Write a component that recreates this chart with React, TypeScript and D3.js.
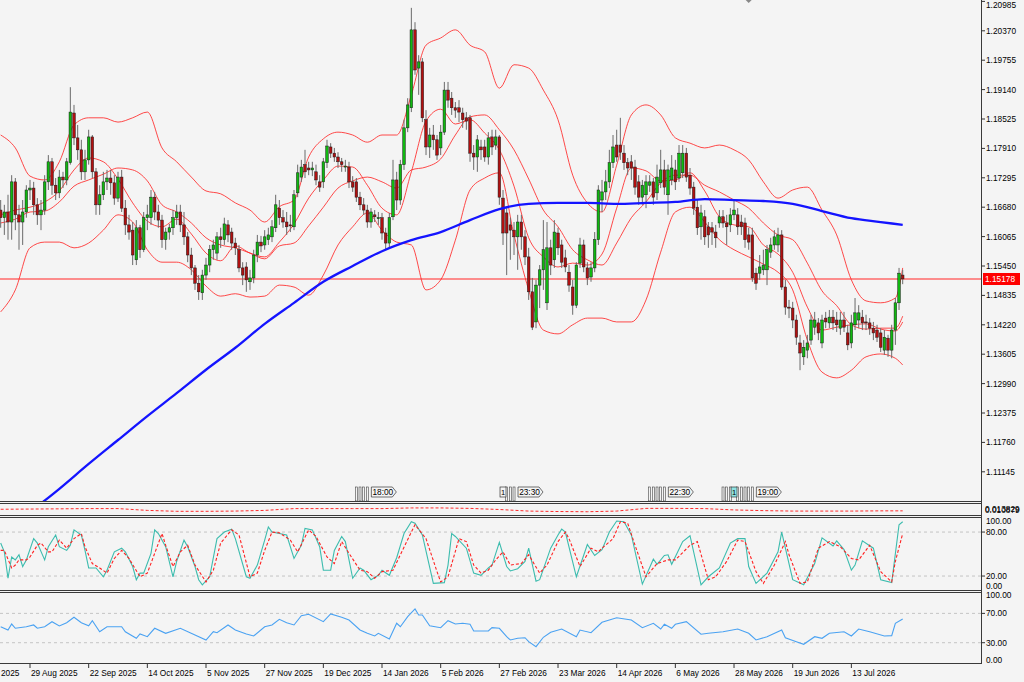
import React from 'react';
import * as d3 from 'd3';

// daily candles, oldest first (bar index = position in array)
const candleOpen = [
  1.1662, 1.1646, 1.1658, 1.1637, 1.1721, 1.1652, 1.1637, 1.1658, 1.1704, 1.1708,
  1.1673, 1.1652, 1.1662, 1.1721, 1.1763, 1.1714, 1.1698, 1.1731, 1.1725, 1.1761,
  1.1865, 1.1813, 1.1788, 1.1742, 1.1767, 1.1815, 1.1742, 1.1673, 1.1694, 1.1721,
  1.1729, 1.1719, 1.1687, 1.1731, 1.1666, 1.1631, 1.1620, 1.1558, 1.1625, 1.1579,
  1.1646, 1.1646, 1.1689, 1.1658, 1.1641, 1.1600, 1.1616, 1.1625, 1.1646, 1.1658,
  1.1631, 1.1606, 1.1568, 1.1541, 1.1509, 1.1489, 1.1526, 1.1547, 1.1579, 1.1572,
  1.1606, 1.1600, 1.1631, 1.1616, 1.1593, 1.1579, 1.1541, 1.1543, 1.1512, 1.1520,
  1.1568, 1.1595, 1.1589, 1.1600, 1.1606, 1.1625, 1.1666, 1.1646, 1.1637, 1.1631,
  1.1627, 1.1698, 1.1731, 1.1757, 1.1750, 1.1746, 1.1742, 1.1721, 1.1721, 1.1761,
  1.1794, 1.1781, 1.1773, 1.1763, 1.1752, 1.1752, 1.1721, 1.1721, 1.1689, 1.1673,
  1.1662, 1.1637, 1.1652, 1.1646, 1.1646, 1.1614, 1.1593, 1.1648, 1.1725, 1.1683,
  1.1757, 1.1834, 1.1876, 1.2039, 1.1959, 1.1972, 1.1851, 1.1794, 1.1819, 1.1809,
  1.1792, 1.1825, 1.1913, 1.1896, 1.1876, 1.1876, 1.1865, 1.1855, 1.1855, 1.1781,
  1.1773, 1.1794, 1.1794, 1.1773, 1.1815, 1.1798, 1.1815, 1.1687, 1.1656, 1.1631,
  1.1620, 1.1606, 1.1637, 1.1606, 1.1564, 1.1491, 1.1428, 1.1505, 1.1537, 1.1468,
  1.1583, 1.1558, 1.1614, 1.1589, 1.1562, 1.1532, 1.1501, 1.1463, 1.1551, 1.1589,
  1.1541, 1.1522, 1.1541, 1.1600, 1.1683, 1.1700, 1.1721, 1.1761, 1.1798, 1.1798,
  1.1781, 1.1761, 1.1763, 1.1752, 1.1721, 1.1689, 1.1694, 1.1714, 1.1721, 1.1698,
  1.1719, 1.1746, 1.1694, 1.1725, 1.1746, 1.1729, 1.1740, 1.1781, 1.1735, 1.1710,
  1.1668, 1.1627, 1.1648, 1.1627, 1.1625, 1.1616, 1.1635, 1.1648, 1.1635, 1.1631,
  1.1652, 1.1652, 1.1637, 1.1635, 1.1610, 1.1610, 1.1530, 1.1530, 1.1537, 1.1537,
  1.1574, 1.1589, 1.1589, 1.1610, 1.1501, 1.1459, 1.1457, 1.1432, 1.1384, 1.1355,
  1.1369, 1.1390, 1.1417, 1.1426, 1.1384, 1.1436, 1.1426, 1.1438, 1.1432, 1.1415,
  1.1432, 1.1405, 1.1384, 1.1422, 1.1432, 1.1438, 1.1428, 1.1426, 1.1415, 1.1411,
  1.1405, 1.1369, 1.1394, 1.1369, 1.1411, 1.1468, 1.1526,
];
const candleHigh = [
  1.1683, 1.1673, 1.1694, 1.1735, 1.1729, 1.1673, 1.1683, 1.1714, 1.1725, 1.1721,
  1.1687, 1.1683, 1.1735, 1.1777, 1.1771, 1.1729, 1.1746, 1.1742, 1.1771, 1.1919,
  1.1882, 1.1840, 1.1809, 1.1788, 1.1830, 1.1819, 1.1750, 1.1714, 1.1742, 1.1746,
  1.1746, 1.1735, 1.1742, 1.1746, 1.1683, 1.1652, 1.1637, 1.1641, 1.1631, 1.1658,
  1.1673, 1.1704, 1.1700, 1.1673, 1.1652, 1.1625, 1.1633, 1.1662, 1.1673, 1.1673,
  1.1658, 1.1616, 1.1583, 1.1547, 1.1526, 1.1537, 1.1562, 1.1589, 1.1600, 1.1616,
  1.1625, 1.1646, 1.1641, 1.1625, 1.1604, 1.1589, 1.1553, 1.1553, 1.1537, 1.1579,
  1.1610, 1.1608, 1.1620, 1.1625, 1.1641, 1.1694, 1.1683, 1.1662, 1.1658, 1.1652,
  1.1704, 1.1757, 1.1767, 1.1788, 1.1763, 1.1763, 1.1757, 1.1735, 1.1771, 1.1809,
  1.1802, 1.1792, 1.1783, 1.1771, 1.1767, 1.1763, 1.1733, 1.1729, 1.1700, 1.1687,
  1.1673, 1.1666, 1.1662, 1.1658, 1.1656, 1.1625, 1.1656, 1.1767, 1.1742, 1.1767,
  1.1851, 1.1896, 1.2085, 1.2055, 1.1986, 1.1980, 1.1871, 1.1834, 1.1840, 1.1819,
  1.1840, 1.1930, 1.1930, 1.1909, 1.1888, 1.1892, 1.1876, 1.1867, 1.1861, 1.1798,
  1.1819, 1.1809, 1.1809, 1.1825, 1.1830, 1.1830, 1.1819, 1.1704, 1.1666, 1.1646,
  1.1637, 1.1652, 1.1652, 1.1620, 1.1583, 1.1520, 1.1516, 1.1547, 1.1641, 1.1637,
  1.1600, 1.1641, 1.1625, 1.1600, 1.1579, 1.1547, 1.1516, 1.1553, 1.1604, 1.1600,
  1.1553, 1.1553, 1.1616, 1.1714, 1.1725, 1.1746, 1.1788, 1.1819, 1.1830, 1.1855,
  1.1798, 1.1771, 1.1777, 1.1767, 1.1735, 1.1725, 1.1735, 1.1735, 1.1729, 1.1757,
  1.1788, 1.1767, 1.1757, 1.1777, 1.1767, 1.1798, 1.1798, 1.1792, 1.1750, 1.1721,
  1.1683, 1.1673, 1.1662, 1.1637, 1.1637, 1.1631, 1.1662, 1.1662, 1.1652, 1.1666,
  1.1683, 1.1666, 1.1652, 1.1646, 1.1625, 1.1625, 1.1541, 1.1568, 1.1579, 1.1589,
  1.1604, 1.1620, 1.1625, 1.1620, 1.1516, 1.1474, 1.1470, 1.1443, 1.1401, 1.1390,
  1.1401, 1.1443, 1.1449, 1.1436, 1.1443, 1.1449, 1.1453, 1.1453, 1.1449, 1.1449,
  1.1449, 1.1422, 1.1443, 1.1478, 1.1463, 1.1453, 1.1443, 1.1436, 1.1428, 1.1422,
  1.1415, 1.1411, 1.1401, 1.1422, 1.1478, 1.1541, 1.1537,
];
const candleLow = [
  1.1625, 1.1610, 1.1600, 1.1600, 1.1620, 1.1579, 1.1589, 1.1646, 1.1683, 1.1652,
  1.1631, 1.1620, 1.1652, 1.1704, 1.1694, 1.1683, 1.1687, 1.1708, 1.1714, 1.1757,
  1.1798, 1.1767, 1.1725, 1.1725, 1.1757, 1.1729, 1.1652, 1.1652, 1.1683, 1.1704,
  1.1694, 1.1673, 1.1679, 1.1658, 1.1610, 1.1600, 1.1547, 1.1547, 1.1562, 1.1574,
  1.1620, 1.1631, 1.1641, 1.1625, 1.1583, 1.1579, 1.1600, 1.1610, 1.1631, 1.1616,
  1.1589, 1.1553, 1.1526, 1.1495, 1.1474, 1.1474, 1.1516, 1.1532, 1.1558, 1.1558,
  1.1583, 1.1589, 1.1595, 1.1579, 1.1568, 1.1532, 1.1505, 1.1491, 1.1495, 1.1509,
  1.1553, 1.1574, 1.1579, 1.1589, 1.1595, 1.1616, 1.1631, 1.1625, 1.1610, 1.1616,
  1.1620, 1.1689, 1.1721, 1.1729, 1.1735, 1.1733, 1.1714, 1.1700, 1.1708, 1.1750,
  1.1771, 1.1763, 1.1750, 1.1742, 1.1742, 1.1708, 1.1700, 1.1679, 1.1662, 1.1652,
  1.1625, 1.1625, 1.1637, 1.1631, 1.1600, 1.1579, 1.1583, 1.1641, 1.1662, 1.1673,
  1.1746, 1.1825, 1.1867, 1.1945, 1.1903, 1.1846, 1.1777, 1.1771, 1.1788, 1.1767,
  1.1777, 1.1819, 1.1876, 1.1861, 1.1855, 1.1846, 1.1834, 1.1830, 1.1763, 1.1746,
  1.1742, 1.1767, 1.1763, 1.1757, 1.1777, 1.1788, 1.1673, 1.1589, 1.1526, 1.1558,
  1.1568, 1.1537, 1.1579, 1.1547, 1.1474, 1.1411, 1.1415, 1.1457, 1.1495, 1.1453,
  1.1526, 1.1541, 1.1568, 1.1541, 1.1532, 1.1491, 1.1443, 1.1457, 1.1541, 1.1532,
  1.1505, 1.1512, 1.1532, 1.1589, 1.1658, 1.1683, 1.1708, 1.1750, 1.1763, 1.1767,
  1.1746, 1.1735, 1.1725, 1.1694, 1.1673, 1.1673, 1.1666, 1.1700, 1.1673, 1.1683,
  1.1708, 1.1694, 1.1652, 1.1714, 1.1704, 1.1721, 1.1729, 1.1721, 1.1694, 1.1652,
  1.1610, 1.1600, 1.1589, 1.1583, 1.1589, 1.1583, 1.1625, 1.1625, 1.1589, 1.1616,
  1.1641, 1.1610, 1.1610, 1.1583, 1.1579, 1.1512, 1.1495, 1.1516, 1.1526, 1.1505,
  1.1562, 1.1579, 1.1574, 1.1495, 1.1443, 1.1436, 1.1415, 1.1380, 1.1327, 1.1338,
  1.1352, 1.1380, 1.1401, 1.1390, 1.1373, 1.1415, 1.1415, 1.1411, 1.1407, 1.1401,
  1.1407, 1.1369, 1.1373, 1.1411, 1.1415, 1.1411, 1.1411, 1.1401, 1.1390, 1.1386,
  1.1365, 1.1359, 1.1355, 1.1352, 1.1380, 1.1453, 1.1507,
];
const candleClose = [
  1.1646, 1.1658, 1.1637, 1.1721, 1.1652, 1.1637, 1.1658, 1.1704, 1.1708, 1.1673,
  1.1652, 1.1662, 1.1721, 1.1763, 1.1714, 1.1698, 1.1731, 1.1725, 1.1763, 1.1867,
  1.1813, 1.1788, 1.1742, 1.1767, 1.1815, 1.1742, 1.1673, 1.1694, 1.1721, 1.1729,
  1.1719, 1.1687, 1.1731, 1.1666, 1.1631, 1.1616, 1.1568, 1.1625, 1.1579, 1.1646,
  1.1652, 1.1689, 1.1658, 1.1641, 1.1600, 1.1616, 1.1625, 1.1646, 1.1658, 1.1631,
  1.1606, 1.1568, 1.1541, 1.1509, 1.1491, 1.1526, 1.1547, 1.1579, 1.1589, 1.1606,
  1.1600, 1.1633, 1.1610, 1.1593, 1.1583, 1.1541, 1.1526, 1.1516, 1.1520, 1.1568,
  1.1595, 1.1587, 1.1606, 1.1610, 1.1627, 1.1673, 1.1646, 1.1637, 1.1627, 1.1629,
  1.1694, 1.1740, 1.1752, 1.1742, 1.1746, 1.1750, 1.1725, 1.1710, 1.1763, 1.1796,
  1.1781, 1.1773, 1.1763, 1.1757, 1.1754, 1.1721, 1.1710, 1.1689, 1.1673, 1.1662,
  1.1637, 1.1658, 1.1648, 1.1646, 1.1614, 1.1593, 1.1646, 1.1725, 1.1683, 1.1757,
  1.1834, 1.1882, 1.2039, 1.1955, 1.1972, 1.1855, 1.1794, 1.1819, 1.1809, 1.1777,
  1.1825, 1.1913, 1.1892, 1.1876, 1.1871, 1.1867, 1.1851, 1.1848, 1.1781, 1.1773,
  1.1809, 1.1788, 1.1773, 1.1813, 1.1794, 1.1815, 1.1689, 1.1614, 1.1614, 1.1620,
  1.1606, 1.1637, 1.1606, 1.1564, 1.1491, 1.1417, 1.1505, 1.1537, 1.1579, 1.1583,
  1.1547, 1.1616, 1.1583, 1.1553, 1.1543, 1.1505, 1.1463, 1.1547, 1.1589, 1.1543,
  1.1520, 1.1541, 1.1600, 1.1704, 1.1700, 1.1721, 1.1761, 1.1794, 1.1773, 1.1783,
  1.1761, 1.1750, 1.1750, 1.1710, 1.1689, 1.1714, 1.1721, 1.1721, 1.1689, 1.1731,
  1.1746, 1.1710, 1.1746, 1.1750, 1.1721, 1.1781, 1.1781, 1.1731, 1.1708, 1.1666,
  1.1625, 1.1656, 1.1606, 1.1610, 1.1616, 1.1604, 1.1648, 1.1635, 1.1627, 1.1652,
  1.1662, 1.1627, 1.1627, 1.1600, 1.1595, 1.1520, 1.1509, 1.1543, 1.1547, 1.1579,
  1.1589, 1.1606, 1.1610, 1.1501, 1.1459, 1.1457, 1.1432, 1.1396, 1.1363, 1.1375,
  1.1384, 1.1432, 1.1432, 1.1405, 1.1432, 1.1428, 1.1438, 1.1426, 1.1422, 1.1432,
  1.1417, 1.1380, 1.1426, 1.1447, 1.1447, 1.1426, 1.1426, 1.1415, 1.1405, 1.1396,
  1.1375, 1.1396, 1.1369, 1.1411, 1.1468, 1.1530, 1.1518,
];
const lastPrice = 1.15178;

// price axis
const priceTicks = [
  1.20985, 1.2037, 1.19755, 1.1914, 1.18525, 1.1791, 1.17295, 1.1668, 1.16065,
  1.1545, 1.14835, 1.1422, 1.13605, 1.1299, 1.12375, 1.1176, 1.11145,
];

// time axis: a label every 16 bars (the first one is mostly off the left edge)
const dateTickBars = [-8, 8, 24, 40, 56, 72, 88, 104, 120, 136, 152, 168, 184, 200, 216, 232];
const dateTickLabels = [
  '2025', '29 Aug 2025', '22 Sep 2025', '14 Oct 2025', '5 Nov 2025', '27 Nov 2025',
  '19 Dec 2025', '14 Jan 2026', '5 Feb 2026', '27 Feb 2026', '23 Mar 2026', '14 Apr 2026',
  '6 May 2026', '28 May 2026', '19 Jun 2026', '13 Jul 2026',
];

// Bollinger bands and fast MA, read every 4 bars
const bandBars = [
  0, 4, 8, 12, 16, 20, 24, 28, 32, 36, 40, 44, 48, 52, 56, 60, 64, 68, 72, 76, 80, 84,
  88, 92, 96, 100, 104, 108, 112, 116, 120, 124, 128, 132, 136, 140, 144, 148, 152, 156,
  160, 164, 168, 172, 176, 180, 184, 188, 192, 196, 200, 204, 208, 212, 216, 220, 224,
  228, 232, 236, 240, 244, 246,
];
const bbUpper = [
  1.1819, 1.1792, 1.1733, 1.1725, 1.1763, 1.1840, 1.1855, 1.1855, 1.1846, 1.1855, 1.1867,
  1.1792, 1.1763, 1.1731, 1.1702, 1.1696, 1.1677, 1.1662, 1.1637, 1.1669, 1.1683, 1.1773,
  1.1811, 1.1825, 1.1819, 1.1804, 1.1819, 1.1819, 1.1903, 1.2007, 1.2022, 1.2039, 1.2007,
  1.1993, 1.1917, 1.1966, 1.1959, 1.1913, 1.1851, 1.1735, 1.1677, 1.1658, 1.1756, 1.1861,
  1.1882, 1.1861, 1.1813, 1.1802, 1.1792, 1.1798, 1.1788, 1.1767, 1.1721, 1.1687, 1.1704,
  1.1710, 1.1662, 1.1610, 1.1516, 1.1472, 1.1468, 1.1478, 1.1541,
];
const bbMiddle = [
  1.1635, 1.1643, 1.1658, 1.1660, 1.1679, 1.1712, 1.1725, 1.1737, 1.1750, 1.1746, 1.1723,
  1.1673, 1.1658, 1.1635, 1.1604, 1.1589, 1.1583, 1.1572, 1.1560, 1.1587, 1.1593, 1.1629,
  1.1668, 1.1708, 1.1723, 1.1731, 1.1721, 1.1708, 1.1746, 1.1752, 1.1769, 1.1819, 1.1857,
  1.1861, 1.1830, 1.1788, 1.1727, 1.1662, 1.1627, 1.1579, 1.1558, 1.1547, 1.1593, 1.1646,
  1.1679, 1.1719, 1.1735, 1.1735, 1.1714, 1.1700, 1.1683, 1.1666, 1.1635, 1.1610, 1.1600,
  1.1551, 1.1493, 1.1462, 1.1422, 1.1413, 1.1415, 1.1415, 1.1440,
];
const bbLower = [
  1.1449, 1.1495, 1.1583, 1.1595, 1.1595, 1.1583, 1.1593, 1.1620, 1.1652, 1.1637, 1.1579,
  1.1553, 1.1553, 1.1537, 1.1503, 1.1482, 1.1487, 1.1480, 1.1482, 1.1505, 1.1501, 1.1484,
  1.1526, 1.1589, 1.1627, 1.1656, 1.1620, 1.1595, 1.1589, 1.1495, 1.1516, 1.1599, 1.1704,
  1.1729, 1.1740, 1.1610, 1.1495, 1.1411, 1.1403, 1.1422, 1.1436, 1.1436, 1.1428, 1.1428,
  1.1474, 1.1574, 1.1658, 1.1668, 1.1637, 1.1600, 1.1579, 1.1564, 1.1549, 1.1532, 1.1495,
  1.1390, 1.1323, 1.1311, 1.1327, 1.1355, 1.1361, 1.1352, 1.1338,
];
const fastMa = [
  1.1652, 1.1662, 1.1668, 1.1679, 1.1702, 1.1746, 1.1771, 1.1763, 1.1727, 1.1677, 1.1639,
  1.1627, 1.1643, 1.1612, 1.1572, 1.1556, 1.1587, 1.1572, 1.1564, 1.1595, 1.1633, 1.1687,
  1.1725, 1.1754, 1.1752, 1.1714, 1.1666, 1.1652, 1.1742, 1.1848, 1.1873, 1.1842, 1.1851,
  1.1823, 1.1788, 1.1712, 1.1604, 1.1564, 1.1543, 1.1551, 1.1547, 1.1570, 1.1666, 1.1750,
  1.1744, 1.1723, 1.1725, 1.1740, 1.1702, 1.1648, 1.1631, 1.1627, 1.1589, 1.1570, 1.1532,
  1.1459, 1.1411, 1.1417, 1.1422, 1.1424, 1.1413, 1.1409, 1.1428,
];

// slow blue moving average, read every 8 bars
const slowMaBars = [
  0, 8, 16, 24, 32, 40, 48, 56, 64, 72, 80, 88, 96, 104, 112, 120, 128, 136, 144, 152,
  160, 168, 176, 184, 192, 200, 208, 216, 224, 232, 240, 246,
];
const slowMa = [
  1.0980, 1.1030, 1.1079, 1.1131, 1.1181, 1.1231, 1.1279, 1.1328, 1.1374, 1.1424, 1.1468,
  1.1512, 1.1545, 1.1576, 1.1599, 1.1616, 1.1641, 1.1664, 1.1675, 1.1677, 1.1677, 1.1675,
  1.1677, 1.1679, 1.1685, 1.1683, 1.1681, 1.1675, 1.1660, 1.1645, 1.1637, 1.1631,
];

// thin indicator strip under the price panel (same bars as slowMaBars)
const stripValues = [
  0.01243, 0.0125, 0.01257, 0.01265, 0.01265, 0.01206, 0.01176, 0.01176, 0.01184, 0.01206,
  0.01265, 0.01265, 0.01265, 0.01265, 0.01287, 0.01287, 0.01272, 0.01235, 0.01184, 0.01169,
  0.01162, 0.01184, 0.01272, 0.01272, 0.01265, 0.01221, 0.01198, 0.01184, 0.01184, 0.01184,
  0.01191, 0.01191,
];
const stripMax = 0.013829;
const stripMin = 0.010879;

// stochastic: [bar, value]
const stochMain: [number, number][] = [
  [0, 65], [1, 53], [2, 17], [3, 46], [4, 42], [5, 49], [6, 33], [7, 42], [9, 71], [10, 65],
  [12, 42], [13, 60], [15, 76], [16, 60], [18, 55], [19, 62], [20, 83], [22, 76], [23, 55],
  [24, 31], [26, 31], [28, 19], [29, 28], [31, 53], [33, 58], [34, 53], [36, 33], [37, 15],
  [38, 24], [39, 24], [41, 51], [42, 83], [43, 78], [45, 60], [47, 19], [48, 40], [50, 69],
  [51, 60], [53, 33], [54, 15], [55, 8], [57, 19], [59, 71], [61, 80], [63, 84], [64, 71],
  [67, 19], [68, 17], [70, 35], [72, 69], [73, 87], [74, 80], [76, 78], [78, 76], [80, 44],
  [82, 62], [83, 85], [85, 83], [87, 60], [88, 28], [90, 28], [91, 55], [93, 74], [94, 67],
  [96, 17], [98, 31], [99, 28], [101, 15], [103, 21], [104, 28], [106, 21], [108, 45],
  [110, 78], [112, 94], [113, 92], [115, 76], [118, 10], [121, 11], [122, 35], [123, 78],
  [124, 74], [127, 58], [129, 24], [131, 21], [133, 31], [134, 35], [136, 66], [138, 33],
  [139, 27], [141, 30], [143, 40], [144, 58], [146, 13], [147, 15], [150, 58], [152, 76],
  [153, 84], [154, 80], [157, 19], [160, 63], [162, 48], [164, 56], [166, 80], [168, 95],
  [170, 94], [172, 76], [175, 9], [178, 43], [179, 36], [181, 48], [182, 49], [183, 36],
  [186, 67], [188, 75], [191, 8], [193, 19], [196, 31], [199, 65], [201, 71], [203, 71],
  [204, 33], [206, 10], [209, 24], [212, 53], [213, 80], [216, 15], [219, 8], [222, 37],
  [224, 72], [227, 61], [228, 68], [230, 56], [232, 28], [233, 35], [235, 68], [238, 58],
  [240, 15], [243, 11], [245, 90], [246, 94],
];
const stochSignal: [number, number][] = [
  [0, 55], [1, 55], [3, 31], [4, 35], [5, 42], [7, 42], [8, 46], [10, 62], [11, 65], [13, 53],
  [14, 53], [16, 69], [18, 58], [20, 71], [22, 78], [23, 60], [25, 37], [27, 31], [29, 24],
  [31, 44], [33, 55], [35, 44], [38, 19], [40, 24], [42, 51], [44, 78], [45, 62], [47, 33],
  [49, 53], [51, 62], [53, 35], [56, 12], [58, 28], [60, 65], [63, 83], [65, 76], [68, 19],
  [70, 24], [72, 55], [74, 80], [76, 79], [79, 69], [81, 53], [84, 83], [86, 74], [89, 46],
  [91, 37], [93, 67], [95, 51], [98, 28], [100, 26], [102, 17], [104, 26], [107, 28],
  [109, 49], [112, 80], [113, 90], [116, 71], [119, 26], [120, 12], [122, 19], [125, 71],
  [127, 67], [129, 35], [131, 24], [133, 28], [135, 42], [137, 53], [139, 35], [142, 37],
  [144, 49], [147, 24], [149, 35], [152, 67], [154, 80], [155, 71], [158, 33], [161, 58],
  [163, 53], [164, 58], [167, 71], [169, 94], [171, 92], [173, 62], [176, 19], [179, 37],
  [182, 42], [184, 42], [188, 62], [190, 67], [193, 15], [195, 19], [198, 40], [201, 69],
  [203, 67], [206, 26], [208, 10], [211, 35], [214, 67], [215, 49], [218, 10], [220, 12],
  [223, 58], [226, 67], [229, 60], [232, 44], [234, 42], [237, 62], [240, 26], [243, 12],
  [244, 40], [246, 78],
];

// RSI: [bar, value]
const rsiLine: [number, number][] = [
  [0, 51.8], [2, 47.3], [3, 55.5], [4, 49.7], [7, 51.8], [9, 54.2], [10, 49.7], [12, 51.8],
  [14, 58.7], [16, 52.8], [18, 57.3], [20, 64.7], [22, 57.3], [24, 53.2], [25, 60], [27, 45],
  [29, 51.8], [33, 51.8], [34, 45], [37, 36], [38, 41.9], [40, 38.2], [42, 49.7], [45, 42.8],
  [49, 49.7], [53, 40.5], [56, 33.7], [58, 45], [59, 43.7], [62, 54.2], [64, 47.3], [67, 41.9],
  [69, 39.2], [72, 51.8], [74, 54.2], [76, 61.9], [78, 57.3], [80, 54.2], [82, 66.8],
  [84, 68.8], [88, 58.7], [90, 69.2], [93, 64.7], [95, 61], [98, 47.3], [100, 42.8],
  [102, 39.2], [103, 42.8], [106, 35], [108, 56.5], [109, 51.8], [111, 65.5], [113, 76],
  [114, 67.8], [115, 67.8], [117, 53.2], [120, 50.5], [122, 60], [124, 55.5], [126, 56.5],
  [128, 55.1], [129, 46], [133, 46], [134, 50.5], [136, 49.7], [138, 38.2], [139, 33.7],
  [141, 36], [143, 36.8], [144, 31.4], [146, 24.6], [148, 37.4], [150, 44.2], [153, 48.7],
  [157, 38.2], [158, 47.3], [161, 43.7], [164, 57.8], [168, 64.1], [172, 61], [175, 50.5],
  [178, 56.5], [180, 48.7], [181, 55.1], [183, 49.7], [184, 55.1], [187, 58.7], [191, 41.5],
  [193, 42.8], [197, 45], [201, 48.7], [204, 42.8], [206, 33.7], [209, 38.2], [213, 47.3],
  [214, 36.8], [217, 31.4], [219, 27.8], [222, 38.2], [224, 36], [226, 42.8], [230, 45],
  [232, 39.2], [234, 48.7], [237, 45], [241, 39.2], [243, 39.6], [244, 56.5], [246, 62.3],
];

// calendar event flags at the bottom of the price panel
const eventGroups = [
  { bars: [97, 98, 99, 100], badgeBar: -1, highlight: false, label: '18:00' },
  { bars: [138, 139, 140], badgeBar: 137, highlight: false, label: '23:30' },
  { bars: [177, 178, 179, 180, 181], badgeBar: -1, highlight: false, label: '22:30' },
  { bars: [197, 198, 199, 201, 202, 203, 204, 205], badgeBar: 200, highlight: true, label: '19:00' },
];
const topMarkerBar = 204;

const BG = '#f4f4f4';
const FONT = "'Liberation Sans', Arial, sans-serif";
const FS = 8.3;
const AXIS_X = 981;

const App: React.FC = () => {
  const x = d3.scaleLinear().domain([0, 246]).range([0.667, 902.7]);
  const yPrice = d3.scaleLinear().domain([1.11145, 1.20985]).range([471.8, 1.4]);
  const yStrip = d3.scaleLinear().domain([stripMin, stripMax]).range([514, 505]);
  const yStoch = d3.scaleLinear().domain([0, 100]).range([590.7, 517.4]);
  const yRsi = d3.scaleLinear().domain([0, 100]).range([664.7, 591.4]);

  const pairLine = (ys: d3.ScaleLinear<number, number>, curve: d3.CurveFactory) =>
    d3.line<[number, number]>().x(d => x(d[0])).y(d => ys(d[1])).curve(curve);

  const bandPath = (vals: number[]) =>
    pairLine(yPrice, d3.curveMonotoneX)(bandBars.map((b, i) => [b, vals[i]] as [number, number])) || '';
  const slowPath = pairLine(yPrice, d3.curveMonotoneX)(slowMaBars.map((b, i) => [b, slowMa[i]] as [number, number])) || '';
  const stripPath = pairLine(yStrip, d3.curveLinear)(slowMaBars.map((b, i) => [b, stripValues[i]] as [number, number])) || '';
  const stochMainPath = pairLine(yStoch, d3.curveLinear)(stochMain) || '';
  const stochSigPath = pairLine(yStoch, d3.curveLinear)(stochSignal) || '';
  const rsiPath = pairLine(yRsi, d3.curveLinear)(rsiLine) || '';

  const bodyW = 2.6;
  const hLines = [501.5, 503.5, 515.5, 517.5, 590.5, 592.5, 663.5];

  return (
    <svg
      width={1024}
      height={682}
      style={{ position: 'absolute', left: 0, top: 0, display: 'block' }}
      fontFamily={FONT}
    >
      <defs>
        <clipPath id="mainClip"><rect x={0} y={0} width={AXIS_X} height={501} /></clipPath>
        <clipPath id="plotClip"><rect x={0} y={0} width={AXIS_X} height={664} /></clipPath>
      </defs>
      <rect x={0} y={0} width={1024} height={682} fill={BG} />

      {/* price panel */}
      <g clipPath="url(#mainClip)">
        <line x1={0} x2={AXIS_X} y1={yPrice(lastPrice)} y2={yPrice(lastPrice)} stroke="#ff6a6a" strokeWidth={1.3} />
        {[bbUpper, bbMiddle, bbLower, fastMa].map((vals, k) => (
          <path key={k} d={bandPath(vals)} fill="none" stroke="#ff2a2a" strokeOpacity={0.85} strokeWidth={1} />
        ))}
        {candleClose.map((c, i) => {
          const o = candleOpen[i];
          const up = c >= o;
          const cx = x(i);
          const top = yPrice(Math.max(o, c));
          const bot = yPrice(Math.min(o, c));
          return (
            <g key={i}>
              <line x1={cx} x2={cx} y1={yPrice(candleHigh[i])} y2={yPrice(candleLow[i])} stroke="#6a6a6a" strokeWidth={1} />
              <rect
                x={cx - bodyW / 2}
                y={top}
                width={bodyW}
                height={Math.max(1, bot - top)}
                fill={up ? '#10b810' : '#b01010'}
                stroke="#1a1a1a"
                strokeWidth={0.5}
              />
            </g>
          );
        })}
        <path d={slowPath} fill="none" stroke="#1414ff" strokeWidth={2.3} />

        {eventGroups.map((g, k) => {
          const last = x(g.bars[g.bars.length - 1]);
          const bx = last + 4;
          return (
            <g key={k}>
              {g.bars.map(b => (
                <rect key={b} x={x(b) - 1} y={487} width={2} height={14} fill="none" stroke="#444" strokeWidth={0.6} />
              ))}
              {g.badgeBar >= 0 && (
                <g>
                  <rect x={x(g.badgeBar) - 3} y={487} width={6} height={10} fill={g.highlight ? '#8fe3e3' : BG} stroke="#333" strokeWidth={0.7} />
                  <text x={x(g.badgeBar)} y={495} fontSize={7.5} textAnchor="middle" fill="#000">1</text>
                </g>
              )}
              <path
                d={`M${bx},487 H${bx + 21} L${bx + 25},492 L${bx + 21},497 H${bx} Z`}
                fill={BG}
                stroke="#333"
                strokeWidth={0.7}
              />
              <text x={bx + 11.5} y={495.3} fontSize={FS} textAnchor="middle" fill="#000">{g.label}</text>
            </g>
          );
        })}
        <path d={`M${x(topMarkerBar) - 3},0 L${x(topMarkerBar) + 3},0 L${x(topMarkerBar)},3 Z`} fill="#888" />
      </g>

      {/* indicator panels */}
      <g clipPath="url(#plotClip)">
        <path d={stripPath} fill="none" stroke="#ff2a2a" strokeWidth={1} strokeDasharray="3,2" />

        {[80, 20].map(v => (
          <line key={v} x1={0} x2={AXIS_X} y1={yStoch(v)} y2={yStoch(v)} stroke="#c4c4c4" strokeDasharray="3,3" />
        ))}
        <path d={stochMainPath} fill="none" stroke="#3cbcae" strokeWidth={1.1} />
        <path d={stochSigPath} fill="none" stroke="#ff2020" strokeWidth={1.1} strokeDasharray="3,2" />

        {[70, 30].map(v => (
          <line key={v} x1={0} x2={AXIS_X} y1={yRsi(v)} y2={yRsi(v)} stroke="#c4c4c4" strokeDasharray="3,3" />
        ))}
        <path d={rsiPath} fill="none" stroke="#4aa2f2" strokeWidth={1.1} />
      </g>

      {/* frames */}
      {hLines.map(yy => (
        <line key={yy} x1={0} x2={AXIS_X} y1={yy} y2={yy} stroke="#3a3a3a" strokeWidth={1} />
      ))}
      <line x1={AXIS_X + 0.5} x2={AXIS_X + 0.5} y1={0} y2={664} stroke="#3a3a3a" strokeWidth={1} />

      {/* price axis (top label nudged down so it stays inside the picture) */}
      {priceTicks.map((t, i) => (
        <g key={t}>
          <line x1={AXIS_X} x2={AXIS_X + 4} y1={yPrice(t)} y2={yPrice(t)} stroke="#333" />
          <text x={AXIS_X + 5} y={i === 0 ? 5 : yPrice(t)} dy="0.35em" fontSize={FS} fill="#000">{t.toFixed(5)}</text>
        </g>
      ))}
      <rect x={AXIS_X + 2} y={yPrice(lastPrice) - 6} width={37} height={12} fill="#ff0000" />
      <text x={AXIS_X + 4} y={yPrice(lastPrice)} dy="0.35em" fontSize={FS} fill="#fff">{lastPrice.toFixed(5)}</text>

      {/* strip axis (labels overlap in the narrow window) */}
      <text x={AXIS_X + 4} y={509.5} dy="0.35em" fontSize={FS} fill="#000">{stripMax.toFixed(6)}</text>
      <text x={AXIS_X + 4} y={510} dy="0.35em" fontSize={FS} fill="#000">{stripMin.toFixed(6)}</text>

      {/* stochastic axis */}
      {[80, 20].map(v => (
        <line key={v} x1={AXIS_X} x2={AXIS_X + 4} y1={yStoch(v)} y2={yStoch(v)} stroke="#333" />
      ))}
      <text x={AXIS_X + 5} y={yStoch(100) + 4} dy="0.35em" fontSize={FS}>100.00</text>
      <text x={AXIS_X + 5} y={yStoch(80)} dy="0.35em" fontSize={FS}>80.00</text>
      <text x={AXIS_X + 5} y={yStoch(20)} dy="0.35em" fontSize={FS}>20.00</text>
      <text x={AXIS_X + 5} y={yStoch(0) - 5} dy="0.35em" fontSize={FS}>0.00</text>

      {/* RSI axis */}
      {[70, 30].map(v => (
        <line key={v} x1={AXIS_X} x2={AXIS_X + 4} y1={yRsi(v)} y2={yRsi(v)} stroke="#333" />
      ))}
      <text x={AXIS_X + 5} y={yRsi(100) + 4} dy="0.35em" fontSize={FS}>100.00</text>
      <text x={AXIS_X + 5} y={yRsi(70)} dy="0.35em" fontSize={FS}>70.00</text>
      <text x={AXIS_X + 5} y={yRsi(30)} dy="0.35em" fontSize={FS}>30.00</text>
      <text x={AXIS_X + 5} y={yRsi(0) - 5} dy="0.35em" fontSize={FS}>0.00</text>

      {/* time axis */}
      {dateTickBars.map((b, i) => (
        <g key={b}>
          <line x1={x(b)} x2={x(b)} y1={664} y2={668} stroke="#333" />
          <text x={b < 0 ? 1 : x(b) + 1} y={676} fontSize={FS} fill="#000">{dateTickLabels[i]}</text>
        </g>
      ))}
    </svg>
  );
};

export default App;
